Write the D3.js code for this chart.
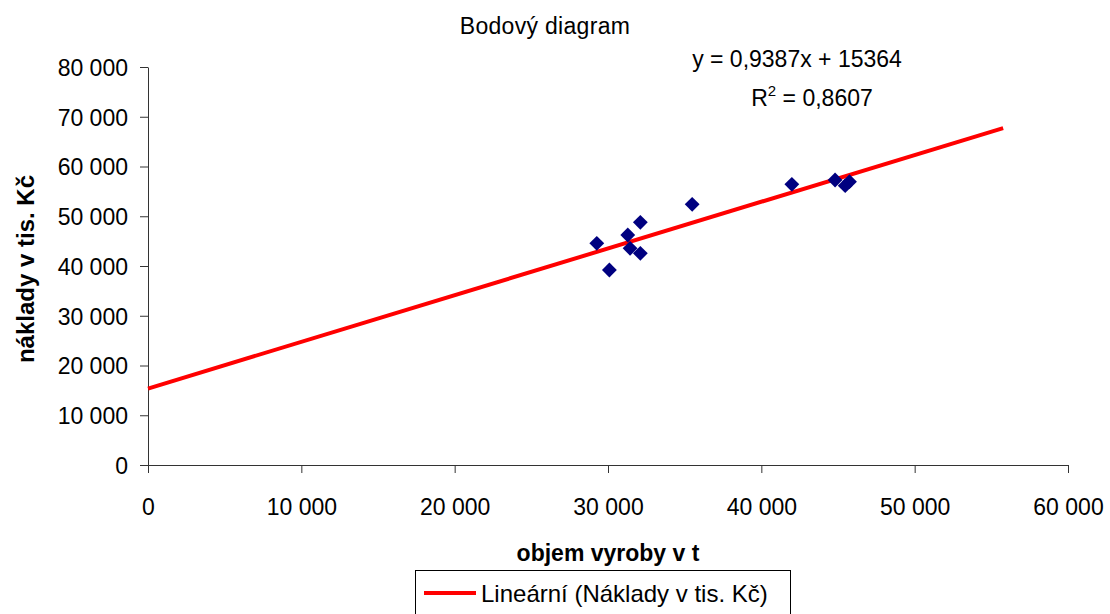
<!DOCTYPE html>
<html>
<head>
<meta charset="utf-8">
<script src="https://cdn.jsdelivr.net/npm/d3@7"></script>
<style>
  body { margin: 0; background: #fff; }
  svg { display: block; font-family: "Liberation Sans", Arial, sans-serif; }
</style>
</head>
<body>
<svg id="chart"></svg>
<script>
// objem vyroby v t
const xValues = [29270, 30090, 31290, 31440, 32110, 32110, 35490, 41990, 44810, 45470, 45750];
// naklady v tis. Kc
const yValues = [44560, 39200, 46230, 43560, 42550, 48780, 52400, 56420, 57290, 56140, 56950];
// trend line y = slope * x + intercept, drawn from 0 to last x + forecast
const trendCoef = [0.9387, 15364];
const trendRange = [0, 55770];
const xTicks = [0, 10000, 20000, 30000, 40000, 50000, 60000];
const yTicks = [0, 10000, 20000, 30000, 40000, 50000, 60000, 70000, 80000];

const width = 1110, height = 614;
const margin = { top: 67, right: 42, bottom: 149, left: 148 };
const innerW = width - margin.left - margin.right;
const innerH = height - margin.top - margin.bottom;

const fmt = d => d3.format(",")(d).replace(/,/g, " ");

const svg = d3.select("#chart").attr("width", width).attr("height", height);

const x = d3.scaleLinear().domain([0, 60000]).range([0, innerW]);
const y = d3.scaleLinear().domain([0, 80000]).range([innerH, 0]);

const chart = svg.append("g")
  .attr("transform", `translate(${margin.left},${margin.top})`);

// axes
const xAxis = d3.axisBottom(x).tickValues(xTicks).tickSize(8).tickSizeOuter(0).tickFormat(fmt);
const yAxis = d3.axisLeft(y).tickValues(yTicks).tickSize(8).tickSizeOuter(0).tickFormat(fmt);

const xAxisG = chart.append("g").attr("transform", `translate(0,${innerH})`).call(xAxis);
const yAxisG = chart.append("g").call(yAxis);

[xAxisG, yAxisG].forEach(g => {
  g.selectAll("path, line").attr("stroke", "#333").attr("stroke-width", 1);
  g.selectAll("text").attr("fill", "#000").style("font-size", "23px");
});
xAxisG.selectAll("text").attr("y", 50).attr("dy", 0);
yAxisG.selectAll("text").attr("x", -20).attr("dy", "0.36em");

// trend line
const trend = trendRange.map(v => [v, trendCoef[0] * v + trendCoef[1]]);
chart.append("path")
  .datum(trend)
  .attr("fill", "none")
  .attr("stroke", "#ff0000")
  .attr("stroke-width", 4)
  .attr("d", d3.line().x(d => x(d[0])).y(d => y(d[1])));

// points
const points = xValues.map((v, i) => ({ x: v, y: yValues[i] }));
chart.selectAll(".pt")
  .data(points)
  .join("path")
  .attr("class", "pt")
  .attr("transform", d => `translate(${x(d.x)},${y(d.y)})`)
  .attr("d", d3.symbol().type(d3.symbolDiamond2).size(140))
  .attr("fill", "#000080");

// title
svg.append("text")
  .attr("x", 545).attr("y", 34)
  .attr("text-anchor", "middle")
  .style("font-size", "23px")
  .style("letter-spacing", "0.3px")
  .text("Bodový diagram");

// equation
svg.append("text")
  .attr("x", 797).attr("y", 67)
  .attr("text-anchor", "middle")
  .style("font-size", "23px")
  .text("y = 0,9387x + 15364");

const r2 = svg.append("text")
  .attr("x", 812).attr("y", 106)
  .attr("text-anchor", "middle")
  .style("font-size", "23px");
r2.append("tspan").text("R");
r2.append("tspan").attr("dy", -10).style("font-size", "15px").text("2");
r2.append("tspan").attr("dy", 10).text(" = 0,8607");

// axis titles
svg.append("text")
  .attr("x", 608).attr("y", 561)
  .attr("text-anchor", "middle")
  .style("font-size", "23px").style("font-weight", "bold")
  .text("objem vyroby v t");

svg.append("text")
  .attr("transform", "translate(34,269) rotate(-90)")
  .attr("text-anchor", "middle")
  .style("font-size", "24px").style("font-weight", "bold")
  .text("náklady v tis. Kč");

// legend
const legend = svg.append("g");
legend.append("rect")
  .attr("x", 415.5).attr("y", 570.5)
  .attr("width", 375).attr("height", 50)
  .attr("fill", "#fff").attr("stroke", "#000").attr("stroke-width", 1);
legend.append("line")
  .attr("x1", 424).attr("x2", 476).attr("y1", 593).attr("y2", 593)
  .attr("stroke", "#ff0000").attr("stroke-width", 4);
legend.append("text")
  .attr("x", 481).attr("y", 602)
  .style("font-size", "24px")
  .text("Lineární (Náklady v tis. Kč)");
</script>
</body>
</html>
